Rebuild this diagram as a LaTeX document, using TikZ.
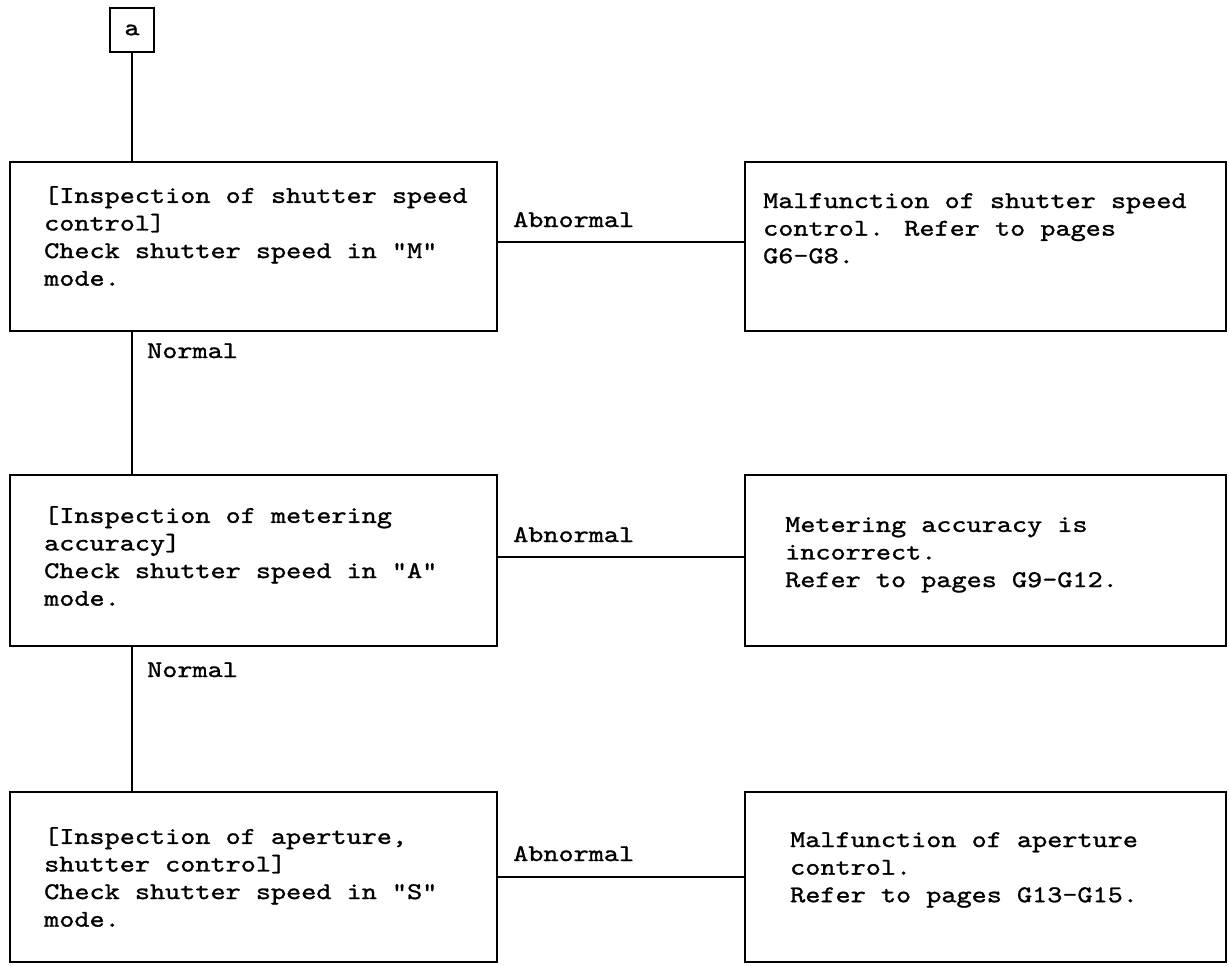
\documentclass[tikz,border=0pt]{standalone}
\usepackage{fontspec}
\newfontfamily\cour[FakeStretch=1.2,FakeBold=1.2]{lmmono10-regular.otf}
\begin{document}
\begin{tikzpicture}[x=1pt,y=-1pt,
  box/.style={draw, line width=1.9pt, inner sep=0pt},
  conn/.style={line width=1.9pt},
  txt/.style={font=\cour\fontsize{24}{27.6}\selectfont, inner sep=0pt, align=left,
              anchor=north west, execute at begin node=\rule{0pt}{20pt}},
  lbl/.style={font=\cour\fontsize{24}{27.6}\selectfont, inner sep=0pt, anchor=base west}]
\useasboundingbox (0,0) rectangle (1229,966);

% start connector box
\node[box, minimum width=44pt, minimum height=44pt, font=\cour\fontsize{24}{27.6}\selectfont] (a) at (132,30) {a};

% row 1
\node[box, minimum width=487pt, minimum height=169pt] (b1) at (253.5,246.5) {};
\node[box, minimum width=481pt, minimum height=169pt] (r1) at (985.5,246.5) {};
% row 2
\node[box, minimum width=487pt, minimum height=171pt] (b2) at (253.5,560.5) {};
\node[box, minimum width=481pt, minimum height=171pt] (r2) at (985.5,560.5) {};
% row 3
\node[box, minimum width=487pt, minimum height=170pt] (b3) at (253.5,877) {};
\node[box, minimum width=481pt, minimum height=170pt] (r3) at (985.5,877) {};

% texts
\node[txt] (t1) at (44,186) {[Inspection of shutter speed\\control]\\Check shutter speed in "M"\\mode.};
\node[txt] (u1) at (763,193) {Malfunction of shutter speed\\control. Refer to pages\\G6-G8.};
\node[txt] (t2) at (44,506) {[Inspection of metering\\accuracy]\\Check shutter speed in "A"\\mode.};
\node[txt] (u2) at (785,517) {Metering accuracy is\\incorrect.\\Refer to pages G9-G12.};
\node[txt] (t3) at (44,827) {[Inspection of aperture,\\shutter control]\\Check shutter speed in "S"\\mode.};
\node[txt] (u3) at (790,832) {Malfunction of aperture\\control.\\Refer to pages G13-G15.};

% vertical connectors
\draw[conn] (a.south) -- (a.south |- b1.north);
\draw[conn] (a.south |- b1.south) -- (a.south |- b2.north);
\draw[conn] (a.south |- b2.south) -- (a.south |- b3.north);

% horizontal connectors
\coordinate (h1) at (0,242);
\coordinate (h2) at (0,557);
\coordinate (h3) at (0,877);
\draw[conn] (b1.east |- h1) -- (r1.west |- h1);
\draw[conn] (b2.east |- h2) -- (r2.west |- h2);
\draw[conn] (b3.east |- h3) -- (r3.west |- h3);

% labels
\node[lbl] (n1) at (147,358) {Normal};
\node[lbl] (n2) at (147,677) {Normal};
\node[lbl] (ab1) at (513,227) {Abnormal};
\node[lbl] (ab2) at (513,542) {Abnormal};
\node[lbl] (ab3) at (513,861) {Abnormal};
\end{tikzpicture}
\end{document}
